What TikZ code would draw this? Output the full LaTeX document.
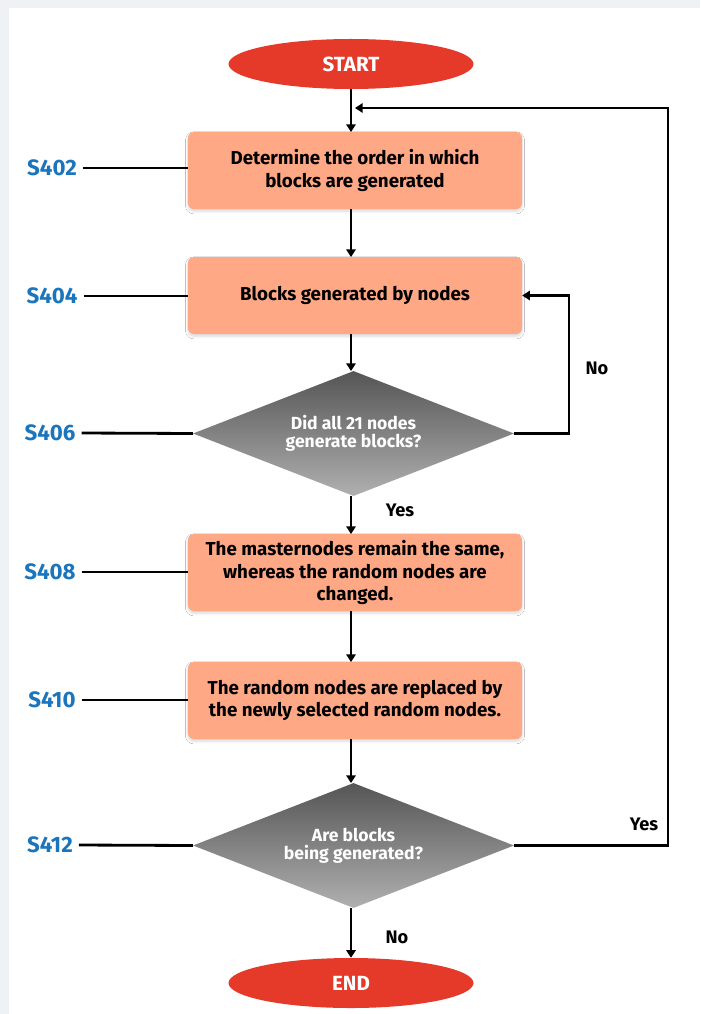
\documentclass[tikz,border=0pt]{standalone}
\usepackage{fontspec}
\setmainfont{Fira Sans}
\usetikzlibrary{shapes.geometric,arrows.meta,shadows.blur}
\definecolor{bgc}{HTML}{EEF2F5}
\definecolor{redc}{HTML}{E5392A}
\definecolor{salmon}{HTML}{FFA886}
\definecolor{lblue}{HTML}{1B75BC}
\definecolor{dtop}{HTML}{555555}
\definecolor{dbot}{HTML}{B0B0B0}
\tikzset{
  term/.style={ellipse, fill=redc, minimum width=7.35cm, minimum height=1.5cm, inner sep=0pt,
    text=white, font=\fontsize{17.5}{19}\selectfont\bfseries},
  procbox/.style={rectangle, rounded corners=5pt, fill=salmon, minimum width=10.02cm, minimum height=2.31cm,
    inner sep=0pt, align=center, font=\fontsize{16}{19}\selectfont\bfseries,
    blur shadow={shadow blur steps=6, shadow xshift=0pt, shadow yshift=-2pt, shadow opacity=15}},
  decis/.style={diamond, top color=dtop, bottom color=dbot, minimum width=9.63cm, minimum height=3.75cm,
    aspect=2.57, inner sep=0pt, align=center, text=white, font=\fontsize{15}{15}\selectfont\bfseries},
  steplab/.style={text=lblue, font=\fontsize{19}{21}\selectfont\bfseries, inner sep=5pt},
  ynlab/.style={font=\fontsize{15.5}{17}\selectfont\bfseries, inner sep=0pt},
  conn/.style={line width=2.4pt, black},
  arr/.style={conn, -{Triangle[length=6.5pt,width=8pt]}},
}
\begin{document}
\begin{tikzpicture}[x=0.03cm,y=-0.03cm]
\useasboundingbox (0,0) rectangle (700,1014);
\fill[bgc] (0,0) rectangle (700,1014);
\fill[white] (9,8) rectangle (700,1014);

\node[term] (start) at (351,64) {START};
\node[procbox] (b402) at (355,170.5) {Determine the order in which\\blocks are generated};
\node[procbox] (b404) at (355,295.5) {Blocks generated by nodes};
\node[decis] (d406) at (353.5,433.5) {Did all 21 nodes\\generate blocks?};
\node[procbox] (b408) at (355,572.5) {The masternodes remain the same,\\whereas the random nodes are\\changed.};
\node[procbox] (b410) at (355,700.5) {The random nodes are replaced by\\the newly selected random nodes.};
\node[decis] (d412) at (353.5,845.5) {Are blocks\\being generated?};
\node[term] (end) at (351,983) {END};

\node[steplab] (l402) at (52,168) {S402};
\node[steplab] (l404) at (52,296) {S404};
\node[steplab] (l406) at (50,433) {S406};
\node[steplab] (l408) at (50,572) {S408};
\node[steplab] (l410) at (52,700) {S410};
\node[steplab] (l412) at (50,845) {S412};

\draw[conn] (l402.east) -- (l402.east -| b402.west);
\draw[conn] (l404.east) -- (l404.east -| b404.west);
\draw[conn] (l406.east) -- (d406.west);
\draw[conn] (l408.east) -- (l408.east -| b408.west);
\draw[conn] (l410.east) -- (l410.east -| b410.west);
\draw[conn] (l412.east) -- (d412.west);

\coordinate (loopend) at (355,108);
\draw[arr] (start.south -| 351,0) -- (351,132);
\draw[arr] (351,209) -- (351,257);
\draw[arr] (351,334) -- (351,371);
\draw[arr] (351,496) -- (351,534);
\draw[arr] (351,611) -- (351,662);
\draw[arr] (351,739) -- (351,783);
\draw[arr] (351,908) -- (end.north -| 351,0);

\draw[arr] (d406.east) -- (569,433.5) |- (b404.east);
\draw[arr] (d412.east) -- (668,845.5) |- (loopend);

\node[ynlab] (no1) at (597,368) {No};
\node[ynlab] (yes1) at (400,510) {Yes};
\node[ynlab] (yes2) at (644,824) {Yes};
\node[ynlab] (no2) at (397,937) {No};
\end{tikzpicture}
\end{document}
